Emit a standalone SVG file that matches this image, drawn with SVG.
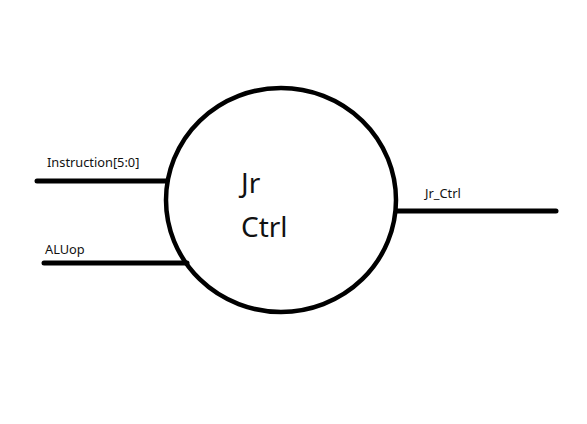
<svg xmlns="http://www.w3.org/2000/svg" width="587" height="424" viewBox="0 0 587 424">
<style>
.w{stroke:#000;stroke-width:5;stroke-linecap:round;fill:none}
.s{font-family:"Noto Sans","Open Sans",sans-serif;font-size:12.8px;fill:#111}
.b{font-family:"Noto Sans","Open Sans",sans-serif;font-size:28px;fill:#111}
</style>
<rect width="587" height="424" fill="#fff"/>
<g id="connectors">
<line class="w" x1="37" y1="181" x2="166" y2="181"/>
<line class="w" x1="44" y1="263" x2="187" y2="263"/>
<line class="w" x1="397" y1="211" x2="556" y2="211"/>
<text class="s" x="47" y="167">Instruction[5:0]</text>
<text class="s" x="45" y="254">ALUop</text>
<text class="s" x="425" y="198">Jr_Ctrl</text>
</g>
<g id="jrctrl">
<ellipse cx="281" cy="200" rx="115" ry="112" stroke="#000" stroke-width="4.5" fill="none"/>
<text class="b" x="241" y="193">Jr</text>
<text class="b" x="241" y="237">Ctrl</text>
</g>
</svg>
